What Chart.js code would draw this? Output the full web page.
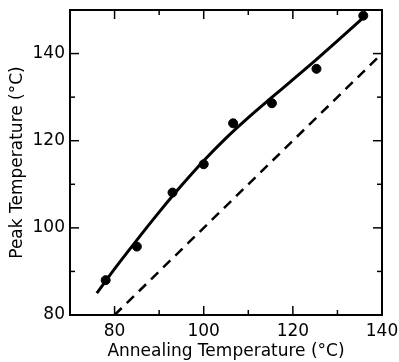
<!DOCTYPE html>
<html>
<head>
<meta charset="utf-8">
<script src="https://cdn.jsdelivr.net/npm/chart.js@4"></script>
<style>
  html, body { margin: 0; padding: 0; background: #fff; }
  #wrap { width: 399px; height: 362px; }
</style>
</head>
<body>
<div id="wrap"><canvas id="chart" width="399" height="362"></canvas></div>
<script>
// measured points (annealing temp, peak temp)
const annealT = [78, 85, 93, 100, 106.6, 115.3, 125.3, 135.8];
const peakT = [88, 95.7, 108.1, 114.6, 124, 128.6, 136.5, 148.7];

// smooth fit drawn through the points
const fitX = [76, 80, 85, 90, 95, 100, 105, 110, 115, 120, 125, 130, 136];
const fitY = [85, 90.6, 97.2, 103.6, 109.7, 115.4, 120.6, 125.3, 129.7, 134, 138.4, 142.9, 148.4];

// peak = annealing reference line
const refX = [80, 140];
const refY = [80, 140];

const xTicks = [80, 100, 120, 140];
const yTicks = [80, 100, 120, 140];
const xMinor = [90, 110, 130];
const yMinor = [90, 110, 130];

const FONT = "'DejaVu Sans', sans-serif";

const toXY = (xs, ys) => xs.map((x, i) => ({ x: x, y: ys[i] }));

// frame + inward ticks on all four sides
const framePlugin = {
  id: "frame",
  afterDatasetsDraw(chart) {
    const { ctx, chartArea: a, scales } = chart;
    ctx.save();
    ctx.strokeStyle = "#000";
    ctx.lineWidth = 2;
    ctx.strokeRect(a.left, a.top, a.right - a.left, a.bottom - a.top);
    const tick = (x1, y1, x2, y2) => { ctx.beginPath(); ctx.moveTo(x1, y1); ctx.lineTo(x2, y2); ctx.stroke(); };
    ctx.lineWidth = 1.5;
    xTicks.concat(xMinor).forEach(v => {
      const len = xTicks.includes(v) ? 9 : 5;
      const px = scales.x.getPixelForValue(v);
      tick(px, a.bottom, px, a.bottom - len);
      tick(px, a.top, px, a.top + len);
    });
    yTicks.concat(yMinor).forEach(v => {
      const len = yTicks.includes(v) ? 9 : 5;
      const py = scales.y.getPixelForValue(v);
      tick(a.left, py, a.left + len, py);
      tick(a.right, py, a.right - len, py);
    });
    ctx.restore();
  }
};

new Chart(document.getElementById("chart"), {
  type: "scatter",
  data: {
    datasets: [
      {
        label: "fit",
        data: toXY(fitX, fitY),
        showLine: true,
        borderColor: "#000",
        borderWidth: 3,
        pointRadius: 0,
        cubicInterpolationMode: "monotone"
      },
      {
        label: "reference",
        data: toXY(refX, refY),
        showLine: true,
        borderColor: "#000",
        borderWidth: 2.5,
        borderDash: [10, 7],
        pointRadius: 0
      },
      {
        label: "measured",
        data: toXY(annealT, peakT),
        backgroundColor: "#000",
        borderColor: "#000",
        pointRadius: 4.5
      }
    ]
  },
  options: {
    responsive: false,
    animation: false,
    layout: { padding: { top: 10, right: 17 } },
    plugins: { legend: { display: false }, tooltip: { enabled: false } },
    scales: {
      x: {
        type: "linear",
        min: 70,
        max: 140,
        grid: { display: false, drawTicks: false },
        border: { display: false },
        afterBuildTicks: s => { s.ticks = xTicks.map(v => ({ value: v })); },
        afterFit: s => { s.height = 47; s.paddingLeft = 0; s.paddingRight = 0; },
        ticks: { color: "#000", padding: 6, font: { family: FONT, size: 17 } },
        title: {
          display: true,
          text: "Annealing Temperature (°C)",
          color: "#000",
          padding: { top: 0, bottom: 0 },
          font: { family: FONT, size: 17 }
        }
      },
      y: {
        type: "linear",
        min: 80,
        max: 150,
        grid: { display: false, drawTicks: false },
        border: { display: false },
        afterBuildTicks: s => { s.ticks = yTicks.map(v => ({ value: v })); },
        afterFit: s => { s.width = 70; s.paddingTop = 0; s.paddingBottom = 0; },
        ticks: { color: "#000", padding: 5, font: { family: FONT, size: 17 } },
        title: {
          display: true,
          text: "Peak Temperature (°C)",
          color: "#000",
          padding: { top: 7, bottom: 4 },
          font: { family: FONT, size: 17 }
        }
      }
    }
  },
  plugins: [framePlugin]
});
</script>
</body>
</html>
